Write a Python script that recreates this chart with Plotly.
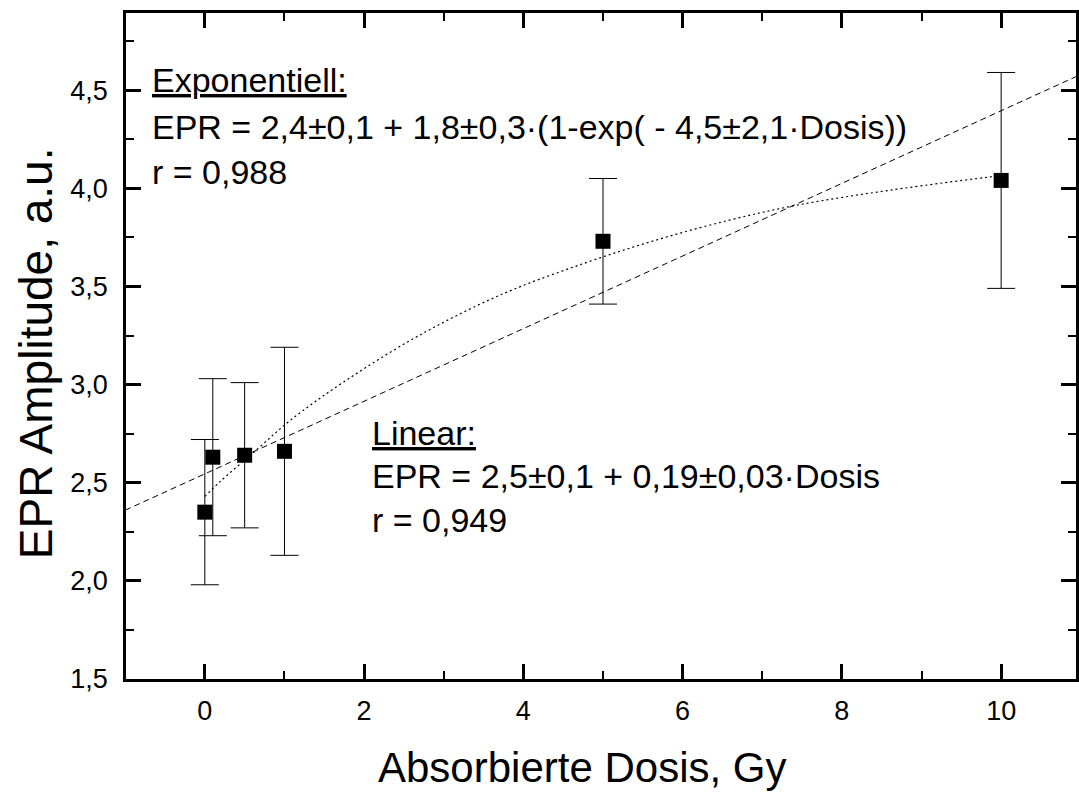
import plotly.graph_objects as go

# Measured data
dose = [0, 0.1, 0.5, 1, 5, 10]
epr = [2.35, 2.63, 2.64, 2.66, 3.73, 4.04]
epr_err = [0.37, 0.40, 0.37, 0.53, 0.32, 0.55]

# Linear fit line (read endpoints)
lin_x = [-1, 11]
lin_y = [2.36, 4.58]

# Exponential fit curve
exp_x = [0, 0.19, 0.67, 1.08, 1.75, 2.69, 3.73, 4.78, 5.7, 6.61, 7.45, 8.6, 9.91, 10]
exp_y = [2.43, 2.505, 2.675, 2.82, 3.015, 3.25, 3.46, 3.62, 3.74, 3.84, 3.915, 3.99, 4.06, 4.063]

x_ticks = [0, 2, 4, 6, 8, 10]
y_ticks = [1.5, 2.0, 2.5, 3.0, 3.5, 4.0, 4.5]

FONT = "Arial, Liberation Sans, sans-serif"

fig = go.Figure()
fig.add_trace(go.Scatter(x=lin_x, y=lin_y, mode="lines",
                         line=dict(color="black", width=1, dash="6px,4px"),
                         hoverinfo="skip", showlegend=False))
fig.add_trace(go.Scatter(x=exp_x, y=exp_y, mode="lines", line_shape="spline",
                         line=dict(color="black", width=1.2, dash="2px,3px"),
                         hoverinfo="skip", showlegend=False))
fig.add_trace(go.Scatter(x=dose, y=epr, mode="markers",
                         marker=dict(symbol="square", size=15, color="black",
                                     line=dict(width=0)),
                         error_y=dict(type="data", array=epr_err, visible=True,
                                      color="black", thickness=1, width=14),
                         showlegend=False))

axis_common = dict(showline=True, linecolor="black", linewidth=2.5,
                   mirror="allticks", ticks="inside", ticklen=15, tickwidth=2.5,
                   tickcolor="black", showgrid=False, zeroline=False,
                   tickfont=dict(family=FONT, size=27, color="black"))

fig.update_xaxes(range=[-0.99, 10.94], tickvals=x_ticks,
                 minor=dict(dtick=1, ticks="inside", ticklen=8, tickwidth=2,
                            tickcolor="black", showgrid=False),
                 ticklabelstandoff=6, **axis_common)
fig.update_yaxes(range=[1.5, 4.893], tickvals=y_ticks, tickformat=".1f",
                 minor=dict(dtick=0.25, ticks="inside", ticklen=8, tickwidth=2,
                            tickcolor="black", showgrid=False),
                 ticklabelstandoff=10, **axis_common)

ann_font = dict(family=FONT, size=34, color="black")
annotations = [
    dict(text="<u>Exponentiell:</u>", x=0.025, y=0.899),
    dict(text="EPR = 2,4±0,1 + 1,8±0,3·(1-exp( - 4,5±2,1·Dosis))", x=0.025, y=0.829),
    dict(text="r = 0,988", x=0.025, y=0.761),
    dict(text="<u>Linear:</u>", x=0.257, y=0.369),
    dict(text="EPR = 2,5±0,1 + 0,19±0,03·Dosis", x=0.257, y=0.305),
    dict(text="r = 0,949", x=0.257, y=0.239),
]
for a in annotations:
    fig.add_annotation(xref="paper", yref="paper", xanchor="left", yanchor="middle",
                       showarrow=False, font=ann_font, **a)

fig.add_annotation(text="Absorbierte Dosis, Gy", xref="paper", yref="paper",
                   x=0.4795, y=-0.1336, xanchor="center", yanchor="middle",
                   showarrow=False, font=dict(family=FONT, size=42, color="black"))
fig.add_annotation(text="EPR Amplitude, a.u.", xref="paper", yref="paper",
                   x=-0.0945, y=0.4895, xanchor="center", yanchor="middle",
                   textangle=-90, showarrow=False,
                   font=dict(family=FONT, size=46, color="black"))

fig.update_layout(width=1079, height=792,
                  margin=dict(l=126, r=0, t=13, b=113),
                  paper_bgcolor="white", plot_bgcolor="white",
                  separators=",.", showlegend=False)

fig.write_html("out.html")
